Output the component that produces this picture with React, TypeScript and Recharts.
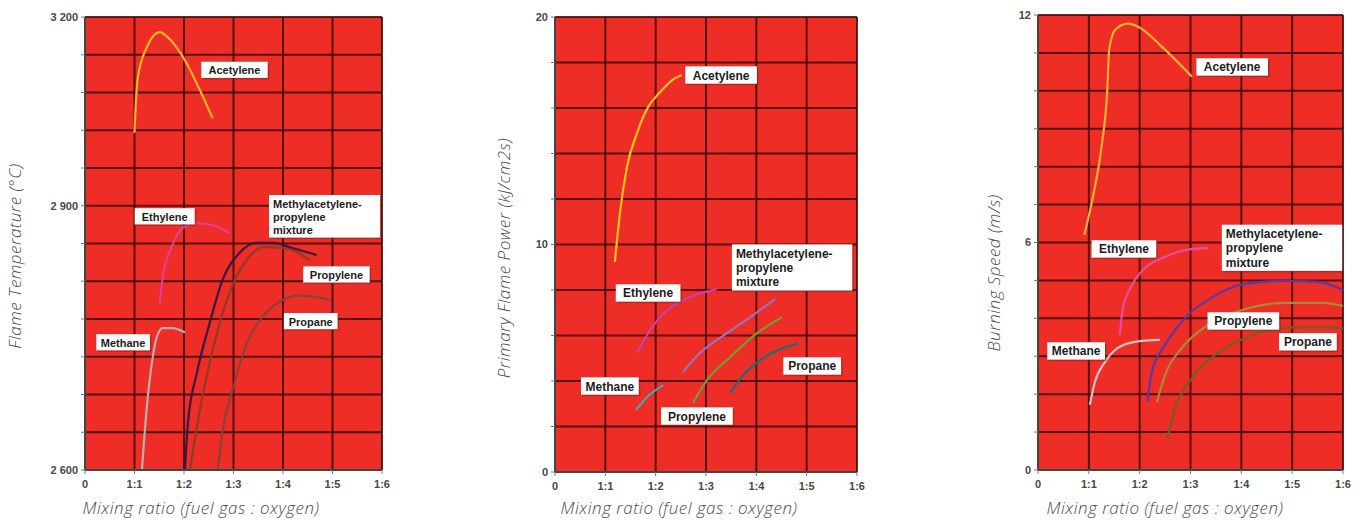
import React from "react";
import { LineChart, Line, XAxis, YAxis, CartesianGrid, ReferenceDot, Label } from "recharts";

// x = oxygen parts per 1 part fuel gas (0 .. 6)
const X_TICKS = [0, 1, 2, 3, 4, 5, 6];

// ---- Flame temperature (°C) ----
const TEMP_ACETYLENE = [[1.0, 3016], [1.02, 3052], [1.07, 3105], [1.25, 3152], [1.51, 3176], [1.67, 3168], [2.05, 3127], [2.32, 3084], [2.58, 3039]];
const TEMP_ETHYLENE = [[1.51, 2789], [1.57, 2819], [1.75, 2853], [1.98, 2875], [2.26, 2880], [2.58, 2878], [2.92, 2869]];
const TEMP_METHANE = [[1.15, 2600], [1.25, 2672], [1.35, 2721], [1.45, 2751], [1.57, 2761], [1.77, 2761], [2.02, 2756]];
const TEMP_MIXTURE = [[2.02, 2600], [2.08, 2654], [2.26, 2710], [2.52, 2767], [2.78, 2816], [3.13, 2847], [3.47, 2858], [3.79, 2858], [4.19, 2852], [4.68, 2844]];
const TEMP_PROPYLENE = [[2.12, 2600], [2.32, 2668], [2.58, 2736], [2.88, 2795], [3.23, 2836], [3.63, 2853], [4.03, 2852], [4.54, 2838]];
const TEMP_PROPANE = [[2.68, 2600], [2.78, 2645], [2.98, 2691], [3.27, 2744], [3.59, 2774], [3.99, 2793], [4.33, 2798], [4.74, 2796], [4.94, 2793]];
// the temperature axis is not linear: 2600..2900 spans 7 grid rows, 2900..3200 spans 5
const TEMP_BREAKS = [2600, 2900, 3200];
const TEMP_ROWS = [0, 7, 12];

// ---- Primary flame power (kJ/cm2s) ----
const POWER_ACETYLENE = [[1.19, 9.23], [1.29, 11.38], [1.43, 13.41], [1.63, 14.9], [1.85, 16.04], [2.09, 16.7], [2.33, 17.23], [2.52, 17.45]];
const POWER_ETHYLENE = [[1.63, 5.23], [1.89, 6.24], [2.23, 7.12], [2.68, 7.69], [3.22, 8.04]];
const POWER_MIXTURE = [[2.54, 4.4], [2.88, 5.23], [3.42, 6.11], [3.94, 6.9], [4.37, 7.6]];
const POWER_PROPYLENE = [[2.74, 3.03], [3.02, 4.04], [3.48, 5.05], [4.02, 6.11], [4.51, 6.81]];
const POWER_PROPANE = [[3.48, 3.47], [3.74, 4.26], [4.14, 5.01], [4.53, 5.45], [4.83, 5.63]];
const POWER_METHANE = [[1.61, 2.73], [1.83, 3.3], [2.15, 3.82]];

// ---- Burning speed (m/s) ----
const SPEED_ACETYLENE = [[0.91, 6.2], [1.08, 7.2], [1.26, 8.63], [1.36, 9.95], [1.4, 11.08], [1.52, 11.61], [1.77, 11.77], [1.97, 11.69], [2.44, 11.16], [3.03, 10.37]];
const SPEED_ETHYLENE = [[1.61, 3.56], [1.67, 4.27], [1.85, 4.88], [2.11, 5.33], [2.5, 5.62], [2.89, 5.8], [3.35, 5.86]];
const SPEED_MIXTURE = [[2.15, 1.79], [2.24, 2.59], [2.5, 3.3], [2.89, 4.01], [3.43, 4.56], [4.07, 4.91], [4.86, 4.99], [5.51, 4.96], [6.0, 4.75]];
const SPEED_PROPYLENE = [[2.34, 1.79], [2.5, 2.51], [2.83, 3.22], [3.35, 3.83], [4.02, 4.22], [4.86, 4.41], [5.59, 4.41], [6.0, 4.33]];
const SPEED_PROPANE = [[2.54, 0.84], [2.7, 1.64], [3.03, 2.43], [3.48, 3.03], [4.07, 3.48], [4.86, 3.75], [5.59, 3.77], [6.0, 3.75]];
const SPEED_METHANE = [[1.02, 1.72], [1.12, 2.32], [1.32, 2.85], [1.57, 3.22], [1.91, 3.38], [2.4, 3.43]];

const MIX = ["Methylacetylene-", "propylene", "mixture"];
const TEMP_TAGS = [
  { text: ["Acetylene"], x: 3.02, y: 3116 },
  { text: ["Ethylene"], x: 1.61, y: 2888 },
  { text: MIX, x: 4.84, y: 2888 },
  { text: ["Propylene"], x: 5.08, y: 2822 },
  { text: ["Propane"], x: 4.56, y: 2769 },
  { text: ["Methane"], x: 0.77, y: 2745 },
];
const POWER_TAGS = [
  { text: ["Acetylene"], x: 3.3, y: 17.45 },
  { text: MIX, x: 4.71, y: 8.99 },
  { text: ["Ethylene"], x: 1.85, y: 7.87 },
  { text: ["Methane"], x: 1.09, y: 3.78 },
  { text: ["Propylene"], x: 2.82, y: 2.46 },
  { text: ["Propane"], x: 5.11, y: 4.66 },
];
const SPEED_TAGS = [
  { text: ["Acetylene"], x: 3.82, y: 10.63 },
  { text: ["Ethylene"], x: 1.69, y: 5.83 },
  { text: MIX, x: 4.8, y: 5.86 },
  { text: ["Propylene"], x: 4.04, y: 3.93 },
  { text: ["Propane"], x: 5.31, y: 3.38 },
  { text: ["Methane"], x: 0.75, y: 3.14 },
];

const SANS = "'Liberation Sans', Arial, sans-serif";
const TITLE_FONT = "'Open Sans', 'DejaVu Sans', sans-serif";
const RED = "#ee2d27";
const GRID = "#3b0d0b";

function tempToRow(t: number) {
  for (let i = 1; i < TEMP_BREAKS.length; i++) {
    if (t <= TEMP_BREAKS[i] || i === TEMP_BREAKS.length - 1) {
      const a = TEMP_BREAKS[i - 1], b = TEMP_BREAKS[i];
      return TEMP_ROWS[i - 1] + ((t - a) / (b - a)) * (TEMP_ROWS[i] - TEMP_ROWS[i - 1]);
    }
  }
  return 0;
}

const pts = (arr: number[][], fy = (v: number) => v) => arr.map(([x, y]) => ({ x, y: fy(y) }));
const fmtX = (v: number) => (v === 0 ? "0" : `1:${v}`);

function Tag({ cx, cy, lines, fs }: any) {
  const lh = fs * 1.2;
  const longest = Math.max(...lines.map((l: string) => l.length));
  const w = longest * fs * 0.58 + 9;
  const h = lines.length * lh + 3;
  const x0 = cx - w / 2, y0 = cy - h / 2;
  return (
    <g>
      <rect x={x0 + 1.5} y={y0 + 1.5} width={w} height={h} fill="#7a2420" opacity={0.5} />
      <rect x={x0} y={y0} width={w} height={h} fill="#fff" />
      {lines.map((l: string, i: number) => (
        <text key={i} x={lines.length > 1 ? x0 + 4 : cx} y={y0 + 2 + lh * (i + 0.5)}
          textAnchor={lines.length > 1 ? "start" : "middle"} dominantBaseline="central"
          fontFamily={SANS} fontWeight={700} fontSize={fs} fill="#1c1c1c">{l}</text>
      ))}
    </g>
  );
}

interface Series { name: string; color: string; data: { x: number; y: number }[] }
interface PanelProps {
  left: number; width: number; top: number; bottom: number;
  yTicks: number[]; yLabel: (v: number) => string; yMax: number;
  series: Series[]; tags: { text: string[]; x: number; y: number }[]; tagFs: number;
  yTitle: string; yTitleX: number; yTitleY: number; xTitleX: number;
}

const titleStyle = {
  fontFamily: TITLE_FONT, fontStyle: "italic", fontWeight: 300, fontSize: 17, fill: "#4a4a4a", letterSpacing: 0.5,
} as const;

function Panel(p: PanelProps) {
  return (
    <div style={{ position: "absolute", left: p.left, top: 0 }}>
      <LineChart width={p.width} height={520} margin={{ top: p.top, right: 8, bottom: p.bottom, left: 45 }}>
        <CartesianGrid fill={RED} fillOpacity={1} stroke={GRID} strokeWidth={2} strokeOpacity={0.85} />
        <XAxis dataKey="x" type="number" domain={[0, 6]} ticks={X_TICKS} tickFormatter={fmtX}
          allowDataOverflow height={30} tickSize={4} tickMargin={6}
          axisLine={{ stroke: "#444", strokeWidth: 2 }} tickLine={{ stroke: "#777" }}
          tick={{ fontSize: 11, fontWeight: 700, fill: "#474747", fontFamily: SANS }}>
          <Label content={() => (
            <text x={p.xTitleX} y={507} textAnchor="middle" dominantBaseline="central" {...titleStyle}>
              Mixing ratio (fuel gas : oxygen)
            </text>
          )} />
        </XAxis>
        <YAxis type="number" domain={[0, p.yMax]} ticks={p.yTicks} tickFormatter={p.yLabel}
          allowDataOverflow width={40} tickSize={4} tickMargin={3} interval={0}
          axisLine={{ stroke: "#444", strokeWidth: 2 }} tickLine={{ stroke: "#777" }}
          tick={{ fontSize: 11, fontWeight: 700, fill: "#474747", fontFamily: SANS }}>
          <Label content={() => (
            <text x={p.yTitleX} y={p.yTitleY} transform={`rotate(-90 ${p.yTitleX} ${p.yTitleY})`}
              textAnchor="middle" dominantBaseline="central" {...titleStyle}>
              {p.yTitle}
            </text>
          )} />
        </YAxis>
        {p.series.map(s => (
          <Line key={s.name} data={s.data} dataKey="y" name={s.name} type="monotone"
            stroke={s.color} strokeWidth={2.2} dot={false} isAnimationActive={false} />
        ))}
        {p.tags.map((t, i) => (
          <ReferenceDot key={i} x={t.x} y={t.y} r={0} ifOverflow="visible"
            shape={(sp: any) => <Tag cx={sp.cx} cy={sp.cy} lines={t.text} fs={p.tagFs} />} />
        ))}
      </LineChart>
    </div>
  );
}

const TEMP_LABELS: Record<number, string> = { 0: "2 600", 7: "2 900", 12: "3 200" };
const row = (t: number) => tempToRow(t);

export default function App() {
  const rows = Array.from({ length: 13 }, (_, i) => i);
  const powerTicks = Array.from({ length: 11 }, (_, i) => i * 2);
  const speedTicks = Array.from({ length: 13 }, (_, i) => i);
  return (
    <div style={{ position: "absolute", left: 0, top: 0, width: 1368, height: 520, background: "#fff", overflow: "hidden" }}>
      <Panel left={0} width={390} top={17} bottom={20} yMax={12} yTicks={rows}
        yLabel={v => TEMP_LABELS[v] ?? ""}
        series={[
          { name: "Acetylene", color: "#f5b225", data: pts(TEMP_ACETYLENE, row) },
          { name: "Ethylene", color: "#e23e92", data: pts(TEMP_ETHYLENE, row) },
          { name: "Methane", color: "#b9aeae", data: pts(TEMP_METHANE, row) },
          { name: "Propylene", color: "#8e3b28", data: pts(TEMP_PROPYLENE, row) },
          { name: "Propane", color: "#84443a", data: pts(TEMP_PROPANE, row) },
          { name: "Mixture", color: "#3a1840", data: pts(TEMP_MIXTURE, row) },
        ]}
        tags={TEMP_TAGS.map(t => ({ ...t, y: row(t.y) }))} tagFs={11}
        yTitle="Flame Temperature (°C)" yTitleX={14} yTitleY={256} xTitleX={201} />
      <Panel left={470} width={395} top={17} bottom={18} yMax={20} yTicks={powerTicks}
        yLabel={v => (v % 10 === 0 ? String(v) : "")}
        series={[
          { name: "Acetylene", color: "#f2c21e", data: pts(POWER_ACETYLENE) },
          { name: "Ethylene", color: "#c544a8", data: pts(POWER_ETHYLENE) },
          { name: "Mixture", color: "#9a72c2", data: pts(POWER_MIXTURE) },
          { name: "Propylene", color: "#6ea032", data: pts(POWER_PROPYLENE) },
          { name: "Propane", color: "#226b70", data: pts(POWER_PROPANE) },
          { name: "Methane", color: "#44a7b5", data: pts(POWER_METHANE) },
        ]}
        tags={POWER_TAGS} tagFs={12}
        yTitle="Primary Flame Power (kJ/cm2s)" yTitleX={33} yTitleY={258} xTitleX={209} />
      <Panel left={953} width={398} top={15} bottom={20} yMax={12} yTicks={speedTicks}
        yLabel={v => (v % 6 === 0 ? String(v) : "")}
        series={[
          { name: "Acetylene", color: "#f5b232", data: pts(SPEED_ACETYLENE) },
          { name: "Ethylene", color: "#e24f9e", data: pts(SPEED_ETHYLENE) },
          { name: "Mixture", color: "#5a3aa2", data: pts(SPEED_MIXTURE) },
          { name: "Propylene", color: "#a88a34", data: pts(SPEED_PROPYLENE) },
          { name: "Propane", color: "#6e6122", data: pts(SPEED_PROPANE) },
          { name: "Methane", color: "#cbc3c3", data: pts(SPEED_METHANE) },
        ]}
        tags={SPEED_TAGS} tagFs={12}
        yTitle="Burning Speed (m/s)" yTitleX={40} yTitleY={273} xTitleX={212} />
    </div>
  );
}
